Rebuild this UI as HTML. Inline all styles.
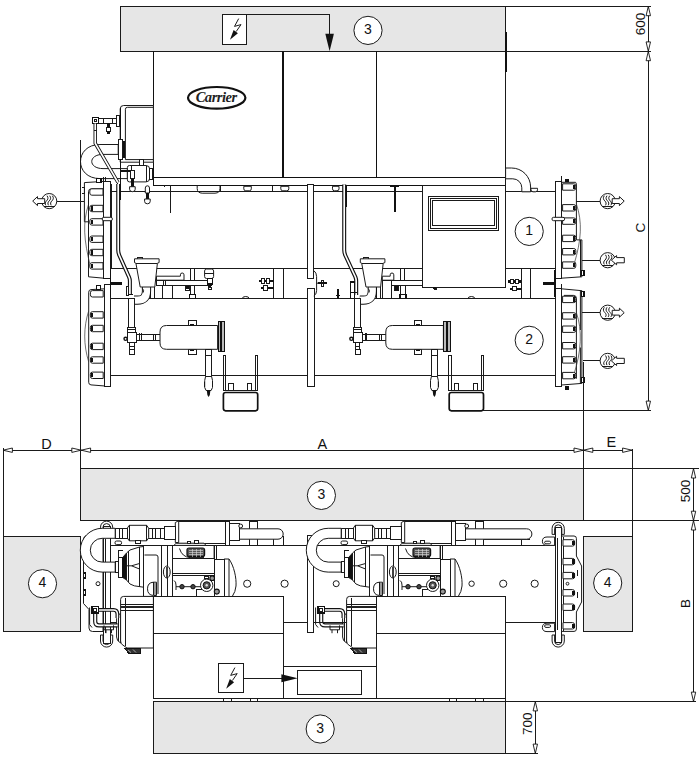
<!DOCTYPE html>
<html><head><meta charset="utf-8">
<style>
html,body{margin:0;padding:0;background:#fff;}
body{width:699px;height:763px;overflow:hidden;font-family:"Liberation Sans",sans-serif;}
svg{display:block;position:absolute;left:0;top:0;}
.t{font-family:"Liberation Sans",sans-serif;font-size:13.5px;fill:#111;}
.l{stroke:#1a1a1a;stroke-width:1;fill:none;}
.h{stroke:#333;stroke-width:.7;fill:none;}
.m{stroke:#111;stroke-width:1.4;fill:none;}
.b{stroke:#111;stroke-width:2;fill:none;}
.g{fill:#e6e6e6;stroke:#1a1a1a;stroke-width:1;}
.w{fill:#fff;stroke:#1a1a1a;stroke-width:1;}
.wh{fill:#fff;stroke:#333;stroke-width:.7;}
.wm{fill:#fff;stroke:#111;stroke-width:1.4;}
.k{fill:#111;stroke:none;}
.ar{fill:#fff;stroke:#111;stroke-width:.9;}
</style></head><body>
<svg width="699" height="763" viewBox="0 0 699 763">
<!-- gray zones -->
<rect shape-rendering="crispEdges" class="g" x="120.5" y="6.5" width="385" height="45"/>
<rect shape-rendering="crispEdges" class="g" x="80.6" y="468.5" width="502.9" height="52"/>
<rect shape-rendering="crispEdges" class="g" x="153.5" y="701.7" width="352" height="51.8"/>
<rect shape-rendering="crispEdges" class="g" x="3.5" y="536.5" width="77" height="95"/>
<rect shape-rendering="crispEdges" class="g" x="583.5" y="536.5" width="48.5" height="95"/>
<circle class="w" stroke-width="1.3" cx="368.0" cy="30.4" r="14.1"/><text class="t" style="font-size:14px" x="368.0" y="33.9" text-anchor="middle">3</text>
<circle class="w" stroke-width="1.3" cx="321.4" cy="495.4" r="14.1"/><text class="t" style="font-size:14px" x="321.4" y="498.9" text-anchor="middle">3</text>
<circle class="w" stroke-width="1.3" cx="320.2" cy="729.0" r="14.1"/><text class="t" style="font-size:14px" x="320.2" y="732.5" text-anchor="middle">3</text>
<circle class="w" stroke-width="1.3" cx="42.5" cy="583.7" r="14.1"/><text class="t" style="font-size:14px" x="42.5" y="587.2" text-anchor="middle">4</text>
<circle class="w" stroke-width="1.3" cx="607.7" cy="583.0" r="14.1"/><text class="t" style="font-size:14px" x="607.7" y="586.5" text-anchor="middle">4</text>
<!-- front elevation -->
<rect shape-rendering="crispEdges" class="w" x="110.5" y="191.8" width="445" height="76.3"/>
<rect shape-rendering="crispEdges" class="w" x="110.5" y="298.7" width="445" height="76.8"/>
<path shape-rendering="crispEdges" class="l" d="M273.8 268V298.7M283.4 268V298.7M521.8 268V298.7M530.5 268V298.7"/>
<rect shape-rendering="crispEdges" class="w" x="153.4" y="51.3" width="352.2" height="126.2"/>
<path shape-rendering="crispEdges" class="m" d="M153.4 51.3V185.2M153.4 177.5H505.6M283 51.3V177.5M376.2 51.3V177.5M307.5 185.2H422.5"/>
<path shape-rendering="crispEdges" class="m" d="M153.4 185.2H307.5"/>
<path shape-rendering="crispEdges" class="l" d="M505.6 6.3V185"/>
<path shape-rendering="crispEdges" class="b" d="M505.6 31.5V72"/>
<path class="w" d="M243.8 186.3h7.5v2.5q0 2 -2 2h-3.5q-2 0 -2 -2z"/>
<path class="w" d="M280.8 186.3h8.0v2.5q0 2 -2 2h-4.0q-2 0 -2 -2z"/>
<path class="w" d="M332.5 186.3h6.5v2.5q0 2 -2 2h-2.5q-2 0 -2 -2z"/>
<path class="l" d="M197.2 185.5V188.4q0 4.6 5 4.8h12.8q5 -.2 5 -4.8V185.5"/><path shape-rendering="crispEdges" class="l" d="M220 185.5V191.5M272.7 185.5V191.5"/>
<ellipse cx="216.7" cy="97.8" rx="28.7" ry="10.8" fill="#fff" stroke="#111" stroke-width="2.2"/>
<text x="216.2" y="102.2" text-anchor="middle" style="font-family:'Liberation Serif',serif;font-style:italic;font-weight:bold;font-size:14.6px;letter-spacing:-0.5px" fill="#222">Carrier</text>
<rect shape-rendering="crispEdges" class="w" x="222.5" y="14.3" width="24" height="30"/>
<path shape-rendering="crispEdges" class="l" d="M246.5 14.3H329.6V36"/>
<polygon class="k" points="329.6,51.3 325.3,33.8 333.9,33.8"/>
<path d="M238.7 18.6L234.5 26.4 241 24.6 236.2 31.5" class="l" stroke-width="1"/><polygon class="k" points="230,39.8 233.6,30 237.9,33.2"/>
<rect shape-rendering="crispEdges" class="w" x="307.5" y="184.5" width="6" height="94.2"/>
<rect shape-rendering="crispEdges" class="w" x="307.5" y="288.6" width="6.6" height="97.7"/>
<path class="l" d="M313.8 270.6 q2.8 2 2.8 6v14 q0 4 -2.8 5.2M316.7 283.2H327"/>
<rect shape-rendering="crispEdges" class="w" x="321" y="280" width="2.6" height="6.6"/><rect shape-rendering="crispEdges" class="k" x="318" y="282.2" width="9.4" height="2"/>
<rect shape-rendering="crispEdges" class="k" x="336.7" y="289" width="2.4" height="9.7"/><rect shape-rendering="crispEdges" class="k" x="335.7" y="294.5" width="4.4" height="1.6"/>
<path class="w" d="M505.6 168 h6 a19 19 0 0 1 19 19 v4.8 h-8.8 v-4 a9 9 0 0 0 -9 -9 h-7.2z"/>
<path class="w" d="M531 188.3h6.5v1.5q0 2 -2 2h-2.5q-2 0 -2 -2z"/>
<rect shape-rendering="crispEdges" class="k" x="507.5" y="280.3" width="13" height="2.4"/><rect shape-rendering="crispEdges" class="w" x="510.3" y="279.3" width="3.4" height="4.4"/><rect shape-rendering="crispEdges" class="w" x="515.5" y="279.3" width="3.4" height="4.4"/>
<rect shape-rendering="crispEdges" class="k" x="510" y="287.5" width="10.5" height="2.4"/><rect shape-rendering="crispEdges" class="w" x="512.6" y="286.5" width="3.4" height="4.4"/>
<path class="l" d="M468 298.7q0 -2.2 3.4 -2.2t3.4 2.2"/>
<rect shape-rendering="crispEdges" class="k" x="258.5" y="279.6" width="15" height="2.4"/><rect shape-rendering="crispEdges" class="w" x="261.2" y="278.6" width="3.4" height="4.4"/><rect shape-rendering="crispEdges" class="w" x="266.5" y="278.6" width="3.4" height="4.4"/>
<rect shape-rendering="crispEdges" class="k" x="261" y="286.9" width="12.5" height="2.4"/><rect shape-rendering="crispEdges" class="w" x="263.6" y="285.9" width="3.4" height="4.4"/>
<path class="l" d="M242.3 298.7q0 -2.2 3.4 -2.2t3.4 2.2"/>
<path class="w" d="M103.8 181.4L84.4 182.6V221.8h4.1V276.8L103.8 278.2z"/>
<path class="h" d="M88.5 204.6 C82.6 222 83.6 240 90.6 267"/>
<path class="l" d="M103.8 188.8H91.4q-2.9 0 -2.9 2.9V222"/>
<path class="w" d="M103.0 188.8H91.8 q-2 0 -2 2.2v2q0 2.2 2 2.2H103.0z"/><path class="w" d="M103.0 205.3H91.8 q-2 0 -2 2.2v2q0 2.2 2 2.2H103.0z"/><rect shape-rendering="crispEdges" class="k" x="90.6" y="206.4" width="2.2" height="4.2"/><path class="w" d="M103.0 218.7H91.8 q-2 0 -2 2.2v2q0 2.2 2 2.2H103.0z"/><rect shape-rendering="crispEdges" class="k" x="90.6" y="219.8" width="2.2" height="4.2"/><path class="w" d="M103.0 236.0H91.8 q-2 0 -2 2.2v2q0 2.2 2 2.2H103.0z"/><rect shape-rendering="crispEdges" class="k" x="90.6" y="237.1" width="2.2" height="4.2"/><path class="w" d="M103.0 249.3H91.8 q-2 0 -2 2.2v2q0 2.2 2 2.2H103.0z"/><rect shape-rendering="crispEdges" class="k" x="90.6" y="250.4" width="2.2" height="4.2"/><path class="w" d="M103.0 262.7H91.8 q-2 0 -2 2.2v2q0 2.2 2 2.2H103.0z"/><rect shape-rendering="crispEdges" class="k" x="90.6" y="263.8" width="2.2" height="4.2"/>
<rect shape-rendering="crispEdges" class="w" x="103.8" y="181.2" width="6.2" height="97.2"/><path shape-rendering="crispEdges" class="l" d="M111.4 184V268"/>
<path class="w" d="M104.9 288.8L91 289.6q-2.3 .2 -2.3 2.6V382.3q0 2.4 2.3 2.6L104.9 386z"/>
<path class="h" d="M88.7 310.9 C83.4 327 83.4 345 88.7 361.9"/>
<path class="w" d="M103.2 290.6H92.4 q-2 0 -2 2.2v2q0 2.2 2 2.2H103.2z"/><path class="w" d="M103.2 311.7H92.4 q-2 0 -2 2.2v2q0 2.2 2 2.2H103.2z"/><rect shape-rendering="crispEdges" class="k" x="91.2" y="312.8" width="2.2" height="4.2"/><path class="w" d="M103.2 325.3H92.4 q-2 0 -2 2.2v2q0 2.2 2 2.2H103.2z"/><rect shape-rendering="crispEdges" class="k" x="91.2" y="326.4" width="2.2" height="4.2"/><path class="w" d="M103.2 343.2H92.4 q-2 0 -2 2.2v2q0 2.2 2 2.2H103.2z"/><rect shape-rendering="crispEdges" class="k" x="91.2" y="344.3" width="2.2" height="4.2"/><path class="w" d="M103.2 356.8H92.4 q-2 0 -2 2.2v2q0 2.2 2 2.2H103.2z"/><rect shape-rendering="crispEdges" class="k" x="91.2" y="357.9" width="2.2" height="4.2"/><path class="w" d="M103.2 372.1H92.4 q-2 0 -2 2.2v2q0 2.2 2 2.2H103.2z"/><rect shape-rendering="crispEdges" class="k" x="91.2" y="373.2" width="2.2" height="4.2"/>
<rect shape-rendering="crispEdges" class="w" x="104.9" y="284.5" width="5.6" height="102"/>
<rect shape-rendering="crispEdges" class="wm" x="96.4" y="285.6" width="3.8" height="3.6"/>
<path class="w" d="M561.5 182.3H575.6l.8 1.8V239.9h5.5V276.8L561.5 278.2z"/>
<path class="h" d="M576.4 204 C582.5 222 581.5 240 574 264.5"/>
<path shape-rendering="crispEdges" class="l" d="M580.8 239.9V276.6"/>
<path class="w" d="M562.6 183.8H573.8 q2 0 2 2.2v2q0 2.2 -2 2.2H562.6z"/><rect shape-rendering="crispEdges" class="k" x="572.8" y="184.9" width="2.2" height="4.2"/><path class="w" d="M562.6 204.6H573.8 q2 0 2 2.2v2q0 2.2 -2 2.2H562.6z"/><rect shape-rendering="crispEdges" class="k" x="572.8" y="205.7" width="2.2" height="4.2"/><path class="w" d="M562.6 217.9H573.8 q2 0 2 2.2v2q0 2.2 -2 2.2H562.6z"/><rect shape-rendering="crispEdges" class="k" x="572.8" y="219.0" width="2.2" height="4.2"/><path class="w" d="M562.6 235.2H573.8 q2 0 2 2.2v2q0 2.2 -2 2.2H562.6z"/><rect shape-rendering="crispEdges" class="k" x="572.8" y="236.3" width="2.2" height="4.2"/><path class="w" d="M562.6 248.5H573.8 q2 0 2 2.2v2q0 2.2 -2 2.2H562.6z"/><rect shape-rendering="crispEdges" class="k" x="572.8" y="249.6" width="2.2" height="4.2"/><path class="w" d="M562.6 261.9H573.8 q2 0 2 2.2v2q0 2.2 -2 2.2H562.6z"/><rect shape-rendering="crispEdges" class="k" x="572.8" y="263.0" width="2.2" height="4.2"/>
<rect shape-rendering="crispEdges" class="w" x="555.5" y="181.5" width="6" height="97"/>
<path class="w" d="M561.5 288.8L581.9 290.7V383.4L561.5 385z"/>
<path class="l" d="M580.4 291V330M580.4 347.5V383M564 295.4H573.5q2.9 0 2.9 2.9V378.7"/>
<path class="h" d="M576.4 312.7 C582.5 330 581.5 352 573.5 375.5"/>
<path class="w" d="M562.6 296.2H573.8 q2 0 2 2.2v2q0 2.2 -2 2.2H562.6z"/><rect shape-rendering="crispEdges" class="k" x="572.8" y="297.3" width="2.2" height="4.2"/><path class="w" d="M562.6 312.7H573.8 q2 0 2 2.2v2q0 2.2 -2 2.2H562.6z"/><rect shape-rendering="crispEdges" class="k" x="572.8" y="313.8" width="2.2" height="4.2"/><path class="w" d="M562.6 326.0H573.8 q2 0 2 2.2v2q0 2.2 -2 2.2H562.6z"/><rect shape-rendering="crispEdges" class="k" x="572.8" y="327.1" width="2.2" height="4.2"/><path class="w" d="M562.6 342.5H573.8 q2 0 2 2.2v2q0 2.2 -2 2.2H562.6z"/><rect shape-rendering="crispEdges" class="k" x="572.8" y="343.6" width="2.2" height="4.2"/><path class="w" d="M562.6 356.7H573.8 q2 0 2 2.2v2q0 2.2 -2 2.2H562.6z"/><rect shape-rendering="crispEdges" class="k" x="572.8" y="357.8" width="2.2" height="4.2"/><path class="w" d="M562.6 372.4H573.8 q2 0 2 2.2v2q0 2.2 -2 2.2H562.6z"/><rect shape-rendering="crispEdges" class="k" x="572.8" y="373.5" width="2.2" height="4.2"/>
<rect shape-rendering="crispEdges" class="w" x="555.5" y="288.5" width="6" height="97.5"/>
<rect class="w" x="102.2" y="217.3" width="10.2" height="3.4" rx="1.6"/><rect class="w" x="552" y="217.3" width="12.6" height="3.4" rx="1.6"/>
<rect shape-rendering="crispEdges" class="k" x="110.4" y="282.4" width="12" height="2.2"/><path shape-rendering="crispEdges" class="m" d="M110.6 270V296.5"/>
<rect shape-rendering="crispEdges" class="k" x="542.8" y="282.4" width="12" height="2.2"/><path shape-rendering="crispEdges" class="m" d="M555 270V296.5"/>
<path shape-rendering="crispEdges" class="l" d="M561.5 176.3v5M561.5 283.6v5"/><rect shape-rendering="crispEdges" class="k" x="565.4" y="178.6" width="4" height="3.2"/><rect shape-rendering="crispEdges" class="k" x="564.6" y="386" width="4" height="3.6"/>
<rect shape-rendering="crispEdges" class="wm" x="581.6" y="270.4" width="2.4" height="5"/><rect shape-rendering="crispEdges" class="wm" x="581.6" y="291.4" width="2.4" height="5"/><rect shape-rendering="crispEdges" class="wm" x="581.6" y="377.8" width="2.4" height="5"/>
<path shape-rendering="crispEdges" class="l" d="M56.8 201.1H84.4M576.4 201.1H600.4M581.9 260.2H600.4M581.9 312.7H600.4M583 360.9H600.4"/>
<circle class="w" cx="49.2" cy="201.1" r="7.6" stroke-width="1.1"/><path class="l" stroke-width=".9" d="M47.0 195.7C48.7 197.9 47.8 199.7 46.5 200.9S44.7 203.7 45.8 205.3"/><path class="l" stroke-width=".9" d="M49.7 195.7C51.4 197.9 50.5 199.7 49.2 200.9S47.4 203.7 48.5 205.3"/><path class="l" stroke-width=".9" d="M52.4 195.7C54.1 197.9 53.2 199.7 51.9 200.9S50.1 203.7 51.2 205.3"/><path shape-rendering="crispEdges" class="l" stroke-width=".9" d="M43.8 206.4h10.8"/><polygon class="w" stroke-width="1.1" points="44.7,198.7 37.5,198.7 37.5,196.6 32.7,201.1 37.5,205.6 37.5,203.5 44.7,203.5"/>
<circle class="w" cx="607.7" cy="201.1" r="7.6" stroke-width="1.1"/><path class="l" stroke-width=".9" d="M604.3 195.7C602.6 197.9 603.5 199.7 604.8 200.9S606.6 203.7 605.5 205.3"/><path class="l" stroke-width=".9" d="M607.0 195.7C605.3 197.9 606.2 199.7 607.5 200.9S609.3 203.7 608.2 205.3"/><path class="l" stroke-width=".9" d="M609.7 195.7C608.0 197.9 608.9 199.7 610.2 200.9S612.0 203.7 610.9 205.3"/><path shape-rendering="crispEdges" class="l" stroke-width=".9" d="M602.3 206.4h10.8"/><polygon class="w" stroke-width="1.1" points="612.2,198.7 619.4,198.7 619.4,196.6 624.2,201.1 619.4,205.6 619.4,203.5 612.2,203.5"/>
<circle class="w" cx="607.7" cy="260.2" r="7.6" stroke-width="1.1"/><path class="l" stroke-width=".9" d="M605.5 254.8C607.2 257.0 606.3 258.8 605.0 260.0S603.2 262.8 604.3 264.4"/><path class="l" stroke-width=".9" d="M608.2 254.8C609.9 257.0 609.0 258.8 607.7 260.0S605.9 262.8 607.0 264.4"/><path class="l" stroke-width=".9" d="M610.9 254.8C612.6 257.0 611.7 258.8 610.4 260.0S608.6 262.8 609.7 264.4"/><path shape-rendering="crispEdges" class="l" stroke-width=".9" d="M602.3 265.5h10.8"/><polygon class="w" stroke-width="1.1" points="611.4,260.2 616.6,255.6 616.6,257.6 624.3,257.6 624.3,262.8 616.6,262.8 616.6,264.8"/>
<circle class="w" cx="607.7" cy="312.7" r="7.6" stroke-width="1.1"/><path class="l" stroke-width=".9" d="M604.3 307.3C602.6 309.5 603.5 311.3 604.8 312.5S606.6 315.3 605.5 316.9"/><path class="l" stroke-width=".9" d="M607.0 307.3C605.3 309.5 606.2 311.3 607.5 312.5S609.3 315.3 608.2 316.9"/><path class="l" stroke-width=".9" d="M609.7 307.3C608.0 309.5 608.9 311.3 610.2 312.5S612.0 315.3 610.9 316.9"/><path shape-rendering="crispEdges" class="l" stroke-width=".9" d="M602.3 318.0h10.8"/><polygon class="w" stroke-width="1.1" points="612.2,310.3 619.4,310.3 619.4,308.2 624.2,312.7 619.4,317.2 619.4,315.1 612.2,315.1"/>
<circle class="w" cx="607.7" cy="360.9" r="7.6" stroke-width="1.1"/><path class="l" stroke-width=".9" d="M605.5 355.5C607.2 357.7 606.3 359.5 605.0 360.7S603.2 363.5 604.3 365.1"/><path class="l" stroke-width=".9" d="M608.2 355.5C609.9 357.7 609.0 359.5 607.7 360.7S605.9 363.5 607.0 365.1"/><path class="l" stroke-width=".9" d="M610.9 355.5C612.6 357.7 611.7 359.5 610.4 360.7S608.6 363.5 609.7 365.1"/><path shape-rendering="crispEdges" class="l" stroke-width=".9" d="M602.3 366.2h10.8"/><polygon class="w" stroke-width="1.1" points="611.4,360.9 616.6,356.3 616.6,358.3 624.3,358.3 624.3,363.5 616.6,363.5 616.6,365.5"/>
<circle class="w" stroke-width="1.3" cx="529.2" cy="231.4" r="14.1"/><text class="t" style="font-size:14px" x="529.2" y="234.9" text-anchor="middle">1</text>
<circle class="w" stroke-width="1.3" cx="529.2" cy="340.3" r="14.1"/><text class="t" style="font-size:14px" x="529.2" y="343.8" text-anchor="middle">2</text>
<path class="w" d="M118.2 144.5H100 C74 144.5 74 178.6 100 178.6 H127.4 V168.6 H103 C88 168.6 88 154.4 103 154.4 H118.2z"/>
<path class="w" d="M153.4 105.5H123.6q-3.4 0 -3.4 3.4V162.2H153.4z"/>
<path class="l" d="M153.4 107.3H127.4q-2 0 -2 2V159.6H153.4"/>
<path shape-rendering="crispEdges" class="m" d="M120.2 108V200"/>
<path shape-rendering="crispEdges" class="l" d="M117 182V250"/>
<rect shape-rendering="crispEdges" class="w" x="118.2" y="139.3" width="4" height="19.8"/><path shape-rendering="crispEdges" class="b" d="M124 141V157.5"/>
<rect shape-rendering="crispEdges" class="w" x="116.3" y="115.5" width="3.4" height="10.8"/>
<rect shape-rendering="crispEdges" class="w" x="98.6" y="118.3" width="17.7" height="5"/><path shape-rendering="crispEdges" class="l" d="M103.6 118.3v5M112 118.3v5"/>
<rect shape-rendering="crispEdges" class="wm" x="92.3" y="117.3" width="6.3" height="6.3"/><rect shape-rendering="crispEdges" class="l" x="94" y="119" width="2.8" height="2.8"/>
<rect shape-rendering="crispEdges" class="k" x="106.6" y="123.3" width="3.2" height="4.5"/><rect shape-rendering="crispEdges" class="w" x="106.2" y="127.8" width="4" height="3.4"/><rect shape-rendering="crispEdges" class="k" x="106.8" y="131.2" width="2.8" height="3"/>
<path d="M95.2 123.6V143.2L118 182.5" fill="none" stroke="#111" stroke-width="3.4"/><path d="M95.2 123.6V143.2L118 182.5" fill="none" stroke="#fff" stroke-width="1.6"/>
<path shape-rendering="crispEdges" class="l" d="M93.5 130.6h3.4"/>
<rect shape-rendering="crispEdges" class="w" x="139.2" y="159.6" width="4" height="6"/>
<path class="w" d="M127.4 167.5q0 -2 2 -2H146q3.7 0 3.7 3.7V178q0 3.9 -3.7 3.9H129.4q-2 0 -2 -2z"/>
<path shape-rendering="crispEdges" class="l" d="M131.5 165.5V182M146 165.5V182"/><rect shape-rendering="crispEdges" class="w" x="149.7" y="168.5" width="2.4" height="10.5"/>
<path shape-rendering="crispEdges" class="b" d="M121 171.2H131.5"/>
<rect shape-rendering="crispEdges" class="w" x="130.2" y="170.7" width="4.2" height="8"/><rect shape-rendering="crispEdges" class="k" x="131" y="178.7" width="2.8" height="8"/><path class="w" d="M129.6 186.7h5.6v2.6q0 2.4 -2.8 2.4t-2.8 -2.4z"/>
<path class="w" d="M145.3 188q0 -2.2 2.1 -2.2t2.1 2.2V193h-4.2z"/><rect shape-rendering="crispEdges" class="k" x="145.8" y="193" width="3.2" height="6"/><path class="w" d="M144.6 199h5.6v2.4q0 2.4 -2.8 2.4t-2.8 -2.4z"/>
<path shape-rendering="crispEdges" class="l" d="M170.3 184.5V212.5M164 184.5V187"/>
<rect shape-rendering="crispEdges" class="wm" x="96.4" y="178.4" width="4.4" height="3.8"/><path shape-rendering="crispEdges" class="l" d="M103.6 176.5v5.6M105.4 176.5v5.6M82 187.5h2.4v6h-2.4"/>
<g transform="translate(0.0,0)"><path d="M118.2 184V250 Q118.2 253 119.4 255.5 L129 277 Q129.9 279 129.9 281 V295" fill="none" stroke="#111" stroke-width="4.0" stroke-linejoin="round"/><path d="M118.2 184V250 Q118.2 253 119.4 255.5 L129 277 Q129.9 279 129.9 281 V295" fill="none" stroke="#fff" stroke-width="1.7" stroke-linejoin="round"/><path class="w" d="M156.5 276.2H180.4v-1.4q0 -1.8 1.8 -1.8t1.8 1.8V280.2H156.5z"/><rect shape-rendering="crispEdges" class="w" x="156.5" y="280.2" width="54.9" height="5.1"/><path shape-rendering="crispEdges" class="l" d="M163.6 280.2v5.1M165.4 280.2v5.1"/><rect shape-rendering="crispEdges" class="w" x="162.5" y="285.3" width="9.5" height="13.4"/><path shape-rendering="crispEdges" class="l" d="M190.8 268V280.2M194.3 268V280.2M150.5 287V298.7M154.8 287V298.7"/><rect shape-rendering="crispEdges" class="w" x="185.7" y="285.3" width="3.4" height="5.2"/><rect shape-rendering="crispEdges" class="k" x="186.3" y="286" width="2.2" height="3.4"/><rect shape-rendering="crispEdges" class="w" x="190.4" y="285.3" width="4.4" height="9.5"/><rect shape-rendering="crispEdges" class="wm" x="189.6" y="294.6" width="6" height="4"/><path class="w" d="M204.6 271q0 -2 2 -2h5q2 0 2 2v5.5q0 2 -2 2h-5q-2 0 -2 -2z"/><path shape-rendering="crispEdges" class="l" d="M204.6 273.8h9"/><path shape-rendering="crispEdges" class="wm" d="M207.5 278.5h5v5.5h-5z"/><rect shape-rendering="crispEdges" class="k" x="208" y="285.3" width="3.4" height="2.2"/><rect shape-rendering="crispEdges" class="w" x="208.6" y="287.5" width="2.4" height="2.4"/><path d="M146.5 286 V291 Q146.5 300.2 137.5 300.2 H134" fill="none" stroke="#111" stroke-width="9.2" stroke-linejoin="round"/><path d="M146.5 286 V291 Q146.5 300.2 137.5 300.2 H134" fill="none" stroke="#fff" stroke-width="7.2" stroke-linejoin="round"/><path class="l" d="M142.3 288.5q2 1.5 1 4"/><rect shape-rendering="crispEdges" class="w" x="137.6" y="257.4" width="5.2" height="1.6"/><path class="w" d="M134.5 258.8H159.1V262.6L157.4 263.2 154.8 287H140.2L135.9 263.2 134.5 262.6z"/><path shape-rendering="crispEdges" class="l" d="M135.9 263H157.4"/><rect shape-rendering="crispEdges" class="w" x="126.2" y="286.5" width="2.2" height="9"/><rect shape-rendering="crispEdges" class="k" x="128" y="293.6" width="4.6" height="1.6"/><rect shape-rendering="crispEdges" class="w" x="128.4" y="298.2" width="6.2" height="29.2"/><rect shape-rendering="crispEdges" class="w" x="127.6" y="327.3" width="7.8" height="5.2"/><path shape-rendering="crispEdges" class="l" d="M127.6 329.6h7.8"/><rect shape-rendering="crispEdges" class="w" x="127.8" y="332.5" width="8.6" height="9.8"/><rect shape-rendering="crispEdges" class="w" x="129.6" y="342.2" width="4.4" height="7.6"/><path shape-rendering="crispEdges" class="l" d="M129.6 346h4.4"/><rect shape-rendering="crispEdges" class="w" x="129.2" y="349.6" width="5.2" height="4.6"/><circle cx="125.6" cy="338.8" r="1.6" fill="#fff" stroke="#111" stroke-width="1.4"/><rect shape-rendering="crispEdges" class="w" x="136.4" y="334" width="23.8" height="6.5"/><path shape-rendering="crispEdges" class="l" d="M139.6 333.2v8.1M141 333.2v8.1M153.6 334v6.5M155.4 334v6.5"/><rect shape-rendering="crispEdges" class="w" x="188.4" y="320.3" width="7.7" height="5.4"/><rect shape-rendering="crispEdges" class="w" x="188.4" y="349.2" width="7.7" height="5.2"/><rect shape-rendering="crispEdges" class="k" x="190.2" y="323.6" width="4" height="1.4"/><rect shape-rendering="crispEdges" class="k" x="190.2" y="350" width="4" height="1.4"/><path class="w" d="M217.6 325.5H166.5q-6.5 0 -6.5 6.5V343q0 6.3 6.5 6.3H217.6z"/><rect shape-rendering="crispEdges" x="218" y="321.8" width="2.8" height="30" fill="#bbb" stroke="#111" stroke-width="1"/><rect shape-rendering="crispEdges" x="221.8" y="321.8" width="3" height="30" fill="#bbb" stroke="#111" stroke-width="1"/><rect shape-rendering="crispEdges" class="w" x="205.6" y="349.3" width="6" height="27.5"/><path shape-rendering="crispEdges" class="l" d="M205.6 355h6"/><path class="w" d="M205.6 376.5h6l.9 4v7l-1.4 3h-5l-1.4 -3v-7z"/><path shape-rendering="crispEdges" class="l" d="M204.4 381.5v5M212.8 381.5v5"/><path class="k" d="M206.8 390.5h3.6l-.6 4.6-1.2 2-1.2-2z"/><path shape-rendering="crispEdges" class="l" d="M223 355.2V390.6M225.4 355.2V390.6M223 355.2h2.4M255.6 355.2V390.6M257.8 355.2V390.6M255.6 355.2h2.2"/><rect shape-rendering="crispEdges" class="w" x="228.8" y="383.4" width="4.2" height="7.4"/><rect shape-rendering="crispEdges" class="w" x="247.2" y="383.4" width="4.4" height="7.4"/><path shape-rendering="crispEdges" class="l" d="M223 390.6H257.8"/><rect x="223.4" y="392.5" width="34.3" height="18.3" rx="2.2" fill="#fff" stroke="#111" stroke-width="1.7"/></g>
<g transform="translate(225.8,0)"><path d="M118.4 184.5V250 Q118.4 253 119.6 255.5 L129.6 277 Q130.4 279 130.4 281 V295" fill="none" stroke="#111" stroke-width="4.0" stroke-linejoin="round"/><path d="M118.4 184.5V250 Q118.4 253 119.6 255.5 L129.6 277 Q130.4 279 130.4 281 V295" fill="none" stroke="#fff" stroke-width="1.7" stroke-linejoin="round"/><path class="w" d="M156.5 276.2H164.4v-1.4q0 -1.8 1.8 -1.8t1.8 1.8V280.2H156.5z"/><rect shape-rendering="crispEdges" class="w" x="156.5" y="280.2" width="8.8" height="18.5"/><rect shape-rendering="crispEdges" class="w" x="165.3" y="280.2" width="46" height="5.1"/><path shape-rendering="crispEdges" class="l" d="M174.8 268V280.2M178.7 268V280.2M150.5 287V298.7M154.8 287V298.7"/><rect shape-rendering="crispEdges" class="w" x="168.8" y="285.3" width="3.8" height="5.6"/><rect shape-rendering="crispEdges" class="k" x="169.4" y="286" width="2.6" height="4"/><rect shape-rendering="crispEdges" class="w" x="175" y="285.3" width="4.4" height="9.5"/><rect shape-rendering="crispEdges" class="wm" x="174.2" y="294.6" width="6" height="4"/><path class="w" d="M204.6 271q0 -2 2 -2h5q2 0 2 2v5.5q0 2 -2 2h-5q-2 0 -2 -2z"/><path shape-rendering="crispEdges" class="l" d="M204.6 273.8h9"/><path shape-rendering="crispEdges" class="wm" d="M207.5 278.5h5v5.5h-5z"/><rect shape-rendering="crispEdges" class="k" x="208" y="285.3" width="3.4" height="2.2"/><rect shape-rendering="crispEdges" class="w" x="208.6" y="287.5" width="2.4" height="2.4"/><path d="M146.5 286 V291 Q146.5 300.2 137.5 300.2 H134" fill="none" stroke="#111" stroke-width="9.2" stroke-linejoin="round"/><path d="M146.5 286 V291 Q146.5 300.2 137.5 300.2 H134" fill="none" stroke="#fff" stroke-width="7.2" stroke-linejoin="round"/><path class="l" d="M142.3 288.5q2 1.5 1 4"/><rect shape-rendering="crispEdges" class="w" x="137.6" y="257.4" width="5.2" height="1.6"/><path class="w" d="M134.5 258.8H159.1V262.6L157.4 263.2 154.8 287H140.2L135.9 263.2 134.5 262.6z"/><path shape-rendering="crispEdges" class="l" d="M135.9 263H157.4"/><rect shape-rendering="crispEdges" class="wm" x="124.8" y="282" width="3.6" height="16.4"/><rect shape-rendering="crispEdges" class="k" x="124.8" y="291.5" width="6" height="1.8"/><rect shape-rendering="crispEdges" class="w" x="128.4" y="298.2" width="6.2" height="29.2"/><rect shape-rendering="crispEdges" class="w" x="127.6" y="327.3" width="7.8" height="5.2"/><path shape-rendering="crispEdges" class="l" d="M127.6 329.6h7.8"/><rect shape-rendering="crispEdges" class="w" x="127.8" y="332.5" width="8.6" height="9.8"/><rect shape-rendering="crispEdges" class="w" x="129.6" y="342.2" width="4.4" height="7.6"/><path shape-rendering="crispEdges" class="l" d="M129.6 346h4.4"/><rect shape-rendering="crispEdges" class="w" x="129.2" y="349.6" width="5.2" height="4.6"/><circle cx="125.6" cy="338.8" r="1.6" fill="#fff" stroke="#111" stroke-width="1.4"/><rect shape-rendering="crispEdges" class="w" x="136.4" y="334" width="23.8" height="6.5"/><path shape-rendering="crispEdges" class="l" d="M139.6 333.2v8.1M141 333.2v8.1M153.6 334v6.5M155.4 334v6.5"/><rect shape-rendering="crispEdges" class="w" x="188.4" y="320.3" width="7.7" height="5.4"/><rect shape-rendering="crispEdges" class="w" x="188.4" y="349.2" width="7.7" height="5.2"/><rect shape-rendering="crispEdges" class="k" x="190.2" y="323.6" width="4" height="1.4"/><rect shape-rendering="crispEdges" class="k" x="190.2" y="350" width="4" height="1.4"/><path class="w" d="M217.6 325.5H166.5q-6.5 0 -6.5 6.5V343q0 6.3 6.5 6.3H217.6z"/><rect shape-rendering="crispEdges" x="218" y="321.8" width="2.8" height="30" fill="#bbb" stroke="#111" stroke-width="1"/><rect shape-rendering="crispEdges" x="221.8" y="321.8" width="3" height="30" fill="#bbb" stroke="#111" stroke-width="1"/><rect shape-rendering="crispEdges" class="w" x="205.6" y="349.3" width="6" height="27.5"/><path shape-rendering="crispEdges" class="l" d="M205.6 355h6"/><path class="w" d="M205.6 376.5h6l.9 4v7l-1.4 3h-5l-1.4 -3v-7z"/><path shape-rendering="crispEdges" class="l" d="M204.4 381.5v5M212.8 381.5v5"/><path class="k" d="M206.8 390.5h3.6l-.6 4.6-1.2 2-1.2-2z"/><path shape-rendering="crispEdges" class="l" d="M223 355.2V390.6M225.4 355.2V390.6M223 355.2h2.4M255.6 355.2V390.6M257.8 355.2V390.6M255.6 355.2h2.2"/><rect shape-rendering="crispEdges" class="w" x="228.8" y="383.4" width="4.2" height="7.4"/><rect shape-rendering="crispEdges" class="w" x="247.2" y="383.4" width="4.4" height="7.4"/><path shape-rendering="crispEdges" class="l" d="M223 390.6H257.8"/><rect x="223.4" y="392.5" width="34.3" height="18.3" rx="2.2" fill="#fff" stroke="#111" stroke-width="1.7"/></g>
<rect shape-rendering="crispEdges" class="w" x="422.5" y="185.3" width="83" height="101.7"/>
<rect shape-rendering="crispEdges" class="w" x="428.3" y="196.8" width="70.4" height="33.7"/>
<rect shape-rendering="crispEdges" class="l" x="430.3" y="198.8" width="66.4" height="29.7"/>
<rect shape-rendering="crispEdges" class="l" x="432.5" y="200.9" width="62" height="24.7"/>
<rect shape-rendering="crispEdges" class="k" x="433" y="287" width="2.6" height="2.4"/>
<path shape-rendering="crispEdges" class="m" d="M395 185V212M346.4 185V207M390 186.5h9"/>
<!-- plan view -->
<rect shape-rendering="crispEdges" class="w" x="110" y="545.4" width="445" height="77.2"/>
<circle class="w" cx="247.2" cy="583.7" r="3.6"/>
<circle class="w" cx="284.6" cy="583.7" r="3.6"/>
<circle class="w" cx="336.2" cy="583.7" r="3.0"/>
<circle class="w" cx="471.6" cy="583.7" r="2.7"/>
<circle class="w" cx="503.2" cy="583.7" r="3.6"/>
<circle class="w" cx="534.7" cy="583.7" r="3.6"/>
<path class="w" d="M103 535.5H88q-4.5 0 -4.5 4.5V603.5L89 609.5V628q0 3.5 3.5 3.5H103z"/>
<path shape-rendering="crispEdges" class="m" d="M83.6 573h2v5h-2M83.6 590h2v5h-2"/>
<path class="w" stroke-width="1.3" d="M100.5 533.2v-6.0a6.1 6.1 0 0 1 12.2 0v6.0z"/><path class="l" stroke-width="1.2" d="M103.0 533.2v-6.0a3.6 3.6 0 0 1 7.2 0v6.0"/>
<path class="w" stroke-width="1.3" d="M100.5 635.0v6.0a6.1 6.1 0 0 0 12.2 0v-6.0z"/><path class="l" stroke-width="1.2" d="M103.0 635.0v6.0a3.6 3.6 0 0 0 7.2 0v-6.0"/>
<rect shape-rendering="crispEdges" class="w" x="103" y="526" width="7" height="117"/><path shape-rendering="crispEdges" class="l" d="M105.6 539V633"/>
<circle class="w" cx="98" cy="583.7" r="2"/>
<path class="w" d="M554.6 537H547q-4.6 0 -4.6 4.2t4.6 4.2H554.6z"/><path class="w" d="M554.6 623.2H547q-4.6 0 -4.6 4.2t4.6 4.2H554.6z"/>
<rect class="l" x="544.6" y="541.2" width="6" height="2.6" rx="1.3"/><rect class="l" x="544.6" y="624.8" width="6" height="2.6" rx="1.3"/>
<path class="w" stroke-width="1.3" d="M552.1 534.4v-6.0a6.1 6.1 0 0 1 12.2 0v6.0z"/><path class="l" stroke-width="1.2" d="M554.6 534.4v-6.0a3.6 3.6 0 0 1 7.2 0v6.0"/>
<path class="w" stroke-width="1.3" d="M552.1 635.0v6.0a6.1 6.1 0 0 0 12.2 0v-6.0z"/><path class="l" stroke-width="1.2" d="M554.6 635.0v6.0a3.6 3.6 0 0 0 7.2 0v-6.0"/>
<path class="w" d="M561.2 536H574q2.4 0 2.4 2.4V556L581.6 566V602L576.4 612V629q0 2.4 -2.4 2.4H561.2z"/>
<path shape-rendering="crispEdges" class="l" d="M563 537V631"/>
<path class="w" d="M563 539.7h9.4q2.2 0 2.2 2.2v2q0 2.2 -2.2 2.2H563z"/><rect shape-rendering="crispEdges" class="k" x="572.2" y="540.6" width="2.4" height="4.6"/>
<path class="w" d="M563 558.4h9.4q2.2 0 2.2 2.2v2q0 2.2 -2.2 2.2H563z"/><rect shape-rendering="crispEdges" class="k" x="572.2" y="559.3" width="2.4" height="4.6"/>
<path class="w" d="M563 572.4h9.4q2.2 0 2.2 2.2v2q0 2.2 -2.2 2.2H563z"/><rect shape-rendering="crispEdges" class="k" x="572.2" y="573.3" width="2.4" height="4.6"/>
<path class="w" d="M563 589.6h9.4q2.2 0 2.2 2.2v2q0 2.2 -2.2 2.2H563z"/><rect shape-rendering="crispEdges" class="k" x="572.2" y="590.5" width="2.4" height="4.6"/>
<path class="w" d="M563 604.0h9.4q2.2 0 2.2 2.2v2q0 2.2 -2.2 2.2H563z"/><rect shape-rendering="crispEdges" class="k" x="572.2" y="604.9" width="2.4" height="4.6"/>
<path class="w" d="M563 622.6h9.4q2.2 0 2.2 2.2v2q0 2.2 -2.2 2.2H563z"/><rect shape-rendering="crispEdges" class="k" x="572.2" y="623.5" width="2.4" height="4.6"/>
<circle class="w" cx="567.5" cy="583.7" r="1.4"/>
<rect shape-rendering="crispEdges" class="w" x="555.2" y="527" width="6" height="115"/><path shape-rendering="crispEdges" class="l" d="M557.6 538V630"/>
<path shape-rendering="crispEdges" class="l" d="M577.6 570v6M577.6 592v6"/>
<rect shape-rendering="crispEdges" class="w" x="307.4" y="535.4" width="6.2" height="96.6"/>
<g transform="translate(0.0,0)"><rect shape-rendering="crispEdges" class="w" x="249.6" y="521.4" width="7.6" height="24"/><path shape-rendering="crispEdges" class="l" d="M273.2 539V545.4M283.2 536V545.4"/><path class="w" d="M239.1 528.8H278.0a5.2 5.2 0 0 1 0 10.4H239.1z"/><rect shape-rendering="crispEdges" class="w" x="228" y="523" width="11" height="17"/><circle class="w" cx="240.7" cy="526" r="1.9"/><rect shape-rendering="crispEdges" class="w" x="177.4" y="521.4" width="50" height="21.6"/><rect shape-rendering="crispEdges" class="w" x="225.6" y="521.4" width="3.4" height="23.6"/><path class="w" d="M175.3 522.5l2.1 -1.1h1.3V542.5h-3.4z"/><rect shape-rendering="crispEdges" class="w" x="164.1" y="526.7" width="11.2" height="12.3"/><rect shape-rendering="crispEdges" class="w" x="148.7" y="528.4" width="15.4" height="9.8"/><path shape-rendering="crispEdges" class="l" d="M152.5 528.4v9.8M155.6 528.4v9.8M160.4 528.4v9.8"/><path class="w" d="M127.2 528.4l2 -3.1h17.5l2 3.1v9.3l-2 3.1h-17.5l-2 -3.1z"/><path shape-rendering="crispEdges" class="l" d="M129.4 525.3v15.5M146.5 525.3v15.5"/><rect shape-rendering="crispEdges" class="w" x="115.2" y="528.4" width="12" height="9.8"/><path shape-rendering="crispEdges" class="l" d="M119.5 528.4v9.8M122.5 528.4v9.8"/><rect shape-rendering="crispEdges" class="w" x="135" y="540.8" width="5.4" height="2.6"/><rect class="w" x="115" y="541" width="6.6" height="3.6" rx="1.6"/><path class="w" d="M115.2 528.3H102.2A21.9 21.9 0 0 0 102.2 572.1H115.2V562.1H102.2A11.9 11.9 0 0 1 102.2 538.3H115.2z"/><rect shape-rendering="crispEdges" class="w" x="115.5" y="561.5" width="3" height="11"/><path shape-rendering="crispEdges" class="l" d="M118.5 557.5V550H122.5"/><rect shape-rendering="crispEdges" class="w" x="118.5" y="557.5" width="4" height="20"/><path d="M122.6 557.5L126.5 553V580L122.6 577.5z" fill="#111" stroke="#111" stroke-width=".8"/><path class="w" stroke-width="1.2" d="M126.5 553L130 550L139.5 547L143.5 546.5V587.2L139.5 586.6Q134 586.4 130 584L126.5 580z"/><path shape-rendering="crispEdges" class="l" d="M128.5 551.4V582M139.5 547V586.6"/><path class="l" d="M126.5 565.8H131.5L139.5 563.5M131.5 565.8L139.5 569"/><rect shape-rendering="crispEdges" class="w" x="143.5" y="545.5" width="18" height="51"/><path class="l" d="M144.5 555H156q2 0 2 2V594"/><path class="w" stroke-width="1.2" d="M153.5 582.2q-6 .3 -6 6.6t6 6.7h3v-13.3z"/><rect shape-rendering="crispEdges" x="153.6" y="583.4" width="2.6" height="11.4" fill="#999"/><path shape-rendering="crispEdges" class="l" d="M153.5 582.4v13"/><rect shape-rendering="crispEdges" class="w" x="161.5" y="545.5" width="11" height="51"/><path shape-rendering="crispEdges" class="l" d="M167.3 545.5V596.5"/><ellipse class="w" stroke-width="1.2" cx="166.8" cy="572" rx="3.4" ry="6"/><rect shape-rendering="crispEdges" x="166" y="567" width="1.8" height="10" fill="#888" stroke="#111" stroke-width=".6"/><rect shape-rendering="crispEdges" class="w" x="172.7" y="545.6" width="41.4" height="50.4"/><path shape-rendering="crispEdges" class="l" d="M172.7 558H214.1M172.7 573H214.1M172.7 575H214.1"/><path shape-rendering="crispEdges" class="w" d="M214.1 559H224.1V596H214.1z"/><path class="l" d="M214.1 559V545.6M216.5 545.6V559M224.1 559H229V596M229 559C234 566 236.6 578 236 586Q235.4 592 232.5 596"/><path class="w" d="M174 545.4l2 -2.2H204l2 2.2z"/><rect shape-rendering="crispEdges" class="w" x="187" y="541" width="3.6" height="2.2"/><rect shape-rendering="crispEdges" class="w" x="194" y="540.4" width="4" height="2.8"/><path class="l" d="M179.5 548.5Q182 557 190 557.6H204"/><rect x="187" y="548" width="17.6" height="8.6" rx="2" fill="#555" stroke="#111" stroke-width="1.2"/><path shape-rendering="crispEdges" d="M189 550.5h14M189 552.5h14M189 554.5h14M192 548.5v8M196 548.5v8M200 548.5v8" stroke="#ddd" stroke-width=".6" fill="none"/><path class="l" d="M174 580.5q2 1 2 4.5v5M176 586.7h26"/><circle cx="182" cy="586.7" r="2.2" fill="#444" stroke="#111" stroke-width="1"/><circle cx="193" cy="586.7" r="2.2" fill="#444" stroke="#111" stroke-width="1"/><path shape-rendering="crispEdges" class="l" d="M196.8 596V589.5H202"/><circle class="w" cx="206.7" cy="585.3" r="6.2" stroke-width="1.3"/><circle cx="206.7" cy="585.3" r="3.6" fill="#555" stroke="#111" stroke-width="1"/><circle cx="206.7" cy="585.3" r="1.2" fill="#ddd"/><path shape-rendering="crispEdges" class="l" d="M204.5 578.5h4.4v-2.4h-4.4z"/><circle cx="212.2" cy="578.2" r="2.3" fill="#999" stroke="#111" stroke-width="1.1"/><circle cx="216.8" cy="591.6" r="2.5" fill="#999" stroke="#111" stroke-width="1.1"/><path class="w" d="M120.6 613.5q-4 1 -4 5V637q0 4 4 6z"/><path shape-rendering="crispEdges" class="l" d="M118.6 615V641"/><path class="w" d="M153.4 596.4H123.6q-3 0 -3 3V641q0 3 2.4 4.2l4 2.8H153.4z"/><path shape-rendering="crispEdges" class="l" d="M125 597.5V646M120.6 604H153.4"/><rect shape-rendering="crispEdges" x="121" y="605.6" width="32.4" height="2.6" fill="#222"/><path shape-rendering="crispEdges" class="l" d="M120.6 610H153.4"/><path shape-rendering="crispEdges" d="M124.6 648.3h15.4v5.2h-11z" fill="#333" stroke="#111" stroke-width="1"/><path d="M128 650l3 2.6M133 649.5l3 3" stroke="#ddd" stroke-width=".7"/><path d="M98 609.9H113.5Q117.4 609.9 117.4 614V618" fill="none" stroke="#111" stroke-width="3.8" stroke-linejoin="round"/><path d="M98 609.9H113.5Q117.4 609.9 117.4 614V618" fill="none" stroke="#fff" stroke-width="1.5" stroke-linejoin="round"/><path d="M95.2 612.5V621.5Q95.2 625.4 99 625.4H117.6" fill="none" stroke="#111" stroke-width="4.2" stroke-linejoin="round"/><path d="M95.2 612.5V621.5Q95.2 625.4 99 625.4H117.6" fill="none" stroke="#fff" stroke-width="1.9" stroke-linejoin="round"/><rect shape-rendering="crispEdges" class="wm" x="91.9" y="606.4" width="6.6" height="6.4"/><rect shape-rendering="crispEdges" class="l" x="93.8" y="608.2" width="2.8" height="2.8"/><path class="l" d="M89.6 607.5v17l2.4 3M104 625.4v4.4h9.5v-4.4M106 629.8v3.4M111.5 629.8v3.4"/></g>
<g transform="translate(226.0,0)"><rect shape-rendering="crispEdges" class="w" x="249.6" y="521.4" width="7.6" height="24"/><path shape-rendering="crispEdges" class="l" d="M257.1 539.6H304M295.8 539.6V545.4"/><path class="w" d="M239.1 528.8H300.7a5.2 5.2 0 0 1 0 10.4H239.1z"/><rect shape-rendering="crispEdges" class="w" x="228" y="523" width="11" height="17"/><circle class="w" cx="240.7" cy="526" r="1.9"/><rect shape-rendering="crispEdges" class="w" x="177.4" y="521.4" width="50" height="21.6"/><rect shape-rendering="crispEdges" class="w" x="225.6" y="521.4" width="3.4" height="23.6"/><path class="w" d="M175.3 522.5l2.1 -1.1h1.3V542.5h-3.4z"/><rect shape-rendering="crispEdges" class="w" x="164.1" y="526.7" width="11.2" height="12.3"/><rect shape-rendering="crispEdges" class="w" x="148.7" y="528.4" width="15.4" height="9.8"/><path shape-rendering="crispEdges" class="l" d="M152.5 528.4v9.8M155.6 528.4v9.8M160.4 528.4v9.8"/><path class="w" d="M127.2 528.4l2 -3.1h17.5l2 3.1v9.3l-2 3.1h-17.5l-2 -3.1z"/><path shape-rendering="crispEdges" class="l" d="M129.4 525.3v15.5M146.5 525.3v15.5"/><rect shape-rendering="crispEdges" class="w" x="115.2" y="528.4" width="12" height="9.8"/><path shape-rendering="crispEdges" class="l" d="M119.5 528.4v9.8M122.5 528.4v9.8"/><rect shape-rendering="crispEdges" class="w" x="135" y="540.8" width="5.4" height="2.6"/><rect class="w" x="115" y="541" width="6.6" height="3.6" rx="1.6"/><path class="w" d="M115.2 528.3H102.2A21.9 21.9 0 0 0 102.2 572.1H115.2V562.1H102.2A11.9 11.9 0 0 1 102.2 538.3H115.2z"/><rect shape-rendering="crispEdges" class="w" x="115.5" y="561.5" width="3" height="11"/><path shape-rendering="crispEdges" class="l" d="M118.5 557.5V550H122.5"/><rect shape-rendering="crispEdges" class="w" x="118.5" y="557.5" width="4" height="20"/><path d="M122.6 557.5L126.5 553V580L122.6 577.5z" fill="#111" stroke="#111" stroke-width=".8"/><path class="w" stroke-width="1.2" d="M126.5 553L130 550L139.5 547L143.5 546.5V587.2L139.5 586.6Q134 586.4 130 584L126.5 580z"/><path shape-rendering="crispEdges" class="l" d="M128.5 551.4V582M139.5 547V586.6"/><path class="l" d="M126.5 565.8H131.5L139.5 563.5M131.5 565.8L139.5 569"/><rect shape-rendering="crispEdges" class="w" x="143.5" y="545.5" width="18" height="51"/><path class="l" d="M144.5 555H156q2 0 2 2V594"/><path class="w" stroke-width="1.2" d="M153.5 582.2q-6 .3 -6 6.6t6 6.7h3v-13.3z"/><rect shape-rendering="crispEdges" x="153.6" y="583.4" width="2.6" height="11.4" fill="#999"/><path shape-rendering="crispEdges" class="l" d="M153.5 582.4v13"/><rect shape-rendering="crispEdges" class="w" x="161.5" y="545.5" width="11" height="51"/><path shape-rendering="crispEdges" class="l" d="M167.3 545.5V596.5"/><ellipse class="w" stroke-width="1.2" cx="166.8" cy="572" rx="3.4" ry="6"/><rect shape-rendering="crispEdges" x="166" y="567" width="1.8" height="10" fill="#888" stroke="#111" stroke-width=".6"/><rect shape-rendering="crispEdges" class="w" x="172.7" y="545.6" width="41.4" height="50.4"/><path shape-rendering="crispEdges" class="l" d="M172.7 558H214.1M172.7 573H214.1M172.7 575H214.1"/><path shape-rendering="crispEdges" class="w" d="M214.1 559H224.1V596H214.1z"/><path class="l" d="M214.1 559V545.6M216.5 545.6V559M224.1 559H229V596M229 559C234 566 236.6 578 236 586Q235.4 592 232.5 596"/><path class="w" d="M174 545.4l2 -2.2H204l2 2.2z"/><rect shape-rendering="crispEdges" class="w" x="187" y="541" width="3.6" height="2.2"/><rect shape-rendering="crispEdges" class="w" x="194" y="540.4" width="4" height="2.8"/><path class="l" d="M179.5 548.5Q182 557 190 557.6H204"/><rect x="187" y="548" width="17.6" height="8.6" rx="2" fill="#555" stroke="#111" stroke-width="1.2"/><path shape-rendering="crispEdges" d="M189 550.5h14M189 552.5h14M189 554.5h14M192 548.5v8M196 548.5v8M200 548.5v8" stroke="#ddd" stroke-width=".6" fill="none"/><path class="l" d="M174 580.5q2 1 2 4.5v5M176 586.7h26"/><circle cx="182" cy="586.7" r="2.2" fill="#444" stroke="#111" stroke-width="1"/><circle cx="193" cy="586.7" r="2.2" fill="#444" stroke="#111" stroke-width="1"/><path shape-rendering="crispEdges" class="l" d="M196.8 596V589.5H202"/><circle class="w" cx="206.7" cy="585.3" r="6.2" stroke-width="1.3"/><circle cx="206.7" cy="585.3" r="3.6" fill="#555" stroke="#111" stroke-width="1"/><circle cx="206.7" cy="585.3" r="1.2" fill="#ddd"/><path shape-rendering="crispEdges" class="l" d="M204.5 578.5h4.4v-2.4h-4.4z"/><circle cx="212.2" cy="578.2" r="2.3" fill="#999" stroke="#111" stroke-width="1.1"/><circle cx="216.8" cy="591.6" r="2.5" fill="#999" stroke="#111" stroke-width="1.1"/><path class="w" d="M120.6 613.5q-4 1 -4 5V637q0 4 4 6z"/><path shape-rendering="crispEdges" class="l" d="M118.6 615V641"/><path class="w" d="M153.4 596.4H123.6q-3 0 -3 3V641q0 3 2.4 4.2l4 2.8H153.4z"/><path shape-rendering="crispEdges" class="l" d="M125 597.5V646M120.6 604H153.4"/><rect shape-rendering="crispEdges" x="121" y="605.6" width="32.4" height="2.6" fill="#222"/><path shape-rendering="crispEdges" class="l" d="M120.6 610H153.4"/><path shape-rendering="crispEdges" d="M124.6 648.3h15.4v5.2h-11z" fill="#333" stroke="#111" stroke-width="1"/><path d="M128 650l3 2.6M133 649.5l3 3" stroke="#ddd" stroke-width=".7"/><path d="M98 609.9H113.5Q117.4 609.9 117.4 614V618" fill="none" stroke="#111" stroke-width="3.8" stroke-linejoin="round"/><path d="M98 609.9H113.5Q117.4 609.9 117.4 614V618" fill="none" stroke="#fff" stroke-width="1.5" stroke-linejoin="round"/><path d="M95.2 612.5V621.5Q95.2 625.4 99 625.4H117.6" fill="none" stroke="#111" stroke-width="4.2" stroke-linejoin="round"/><path d="M95.2 612.5V621.5Q95.2 625.4 99 625.4H117.6" fill="none" stroke="#fff" stroke-width="1.9" stroke-linejoin="round"/><rect shape-rendering="crispEdges" class="wm" x="91.9" y="606.4" width="6.6" height="6.4"/><rect shape-rendering="crispEdges" class="l" x="93.8" y="608.2" width="2.8" height="2.8"/><path class="l" d="M89.6 607.5v17l2.4 3M104 625.4v4.4h9.5v-4.4M106 629.8v3.4M111.5 629.8v3.4"/></g>
<path shape-rendering="crispEdges" class="w" d="M153.4 596.8H283.6V666.3H376.6V596.8H505.6V698.2H153.4z"/>
<path shape-rendering="crispEdges" class="l" d="M153.4 633.2H283.6M376.6 633.2H505.6M283.6 666.3V698.2M376.6 666.3V698.2M283.6 622.6H307.4M313.6 622.6H346M505.6 698.2V701"/>
<rect shape-rendering="crispEdges" class="w" x="297.7" y="670.4" width="64" height="24.1"/>
<path shape-rendering="crispEdges" class="l" d="M223.7 698.2v2.8M231 698.2v2.8M250 698.2v2.8M257.2 698.2v2.8M449.5 698.2v2.8M456.8 698.2v2.8M475.8 698.2v2.8M483 698.2v2.8"/>
<rect shape-rendering="crispEdges" class="w" x="218.5" y="663.3" width="24.5" height="29.4"/>
<path shape-rendering="crispEdges" class="l" d="M243 678.2H284"/><polygon class="k" points="297.7,678.2 281.4,674.2 281.4,682.2"/>
<polyline points="234.9,667.6 230.7,675.4 237.2,673.6 232.4,680.5" class="l" stroke-width="1"/><polygon class="k" points="226.2,688.8 229.8,679.0 234.1,682.2"/>
<!-- dims -->
<path shape-rendering="crispEdges" class="l" d="M505.6 6.3H651M505.6 51.3H651M648.3 6.3V410.5M483 410.5H651"/>
<polygon class="ar" points="648.3,6.3 646.1,15.7 650.5,15.7"/>
<polygon class="ar" points="648.3,51.3 646.1,41.9 650.5,41.9"/>
<polygon class="ar" points="648.3,51.3 646.1,60.7 650.5,60.7"/>
<polygon class="ar" points="648.3,410.5 646.1,401.1 650.5,401.1"/>
<text class="t" transform="translate(644.6,24.0) rotate(-90)" text-anchor="middle">600</text>
<text class="t" transform="translate(645.3,227.5) rotate(-90)" text-anchor="middle">C</text>
<path shape-rendering="crispEdges" class="l" d="M80.9 140V468.6M583.5 362V468.6M3 450.2H632M3.5 447.6V536M632 448.5V536"/>
<polygon class="ar" points="3.0,450.2 12.4,448.0 12.4,452.4"/>
<polygon class="ar" points="81.2,450.2 71.8,448.0 71.8,452.4"/>
<polygon class="ar" points="81.2,450.2 90.6,448.0 90.6,452.4"/>
<polygon class="ar" points="583.4,450.2 574.0,448.0 574.0,452.4"/>
<polygon class="ar" points="583.4,450.2 592.8,448.0 592.8,452.4"/>
<polygon class="ar" points="632.0,450.2 622.6,448.0 622.6,452.4"/>
<text class="t" style="font-size:14.5px" x="46.6" y="448.6" text-anchor="middle">D</text>
<text class="t" style="font-size:14.5px" x="322.4" y="448.6" text-anchor="middle">A</text>
<text class="t" style="font-size:14.5px" x="611.3" y="447.4" text-anchor="middle">E</text>
<path shape-rendering="crispEdges" class="l" d="M583.4 468.6H699M583.4 520.6H699M693.5 468.6V701.5M505.7 701.5H696"/>
<polygon class="ar" points="693.5,468.6 691.3,478.0 695.7,478.0"/>
<polygon class="ar" points="693.5,520.6 691.3,511.2 695.7,511.2"/>
<polygon class="ar" points="693.5,520.6 691.3,530.0 695.7,530.0"/>
<polygon class="ar" points="693.5,701.5 691.3,692.1 695.7,692.1"/>
<text class="t" transform="translate(690.0,491.0) rotate(-90)" text-anchor="middle">500</text>
<text class="t" transform="translate(690.0,603.4) rotate(-90)" text-anchor="middle">B</text>
<path shape-rendering="crispEdges" class="l" d="M535.3 701.5V753.5M505.7 753.5H538"/>
<polygon class="ar" points="535.3,701.5 533.1,710.9 537.5,710.9"/>
<polygon class="ar" points="535.3,753.5 533.1,744.1 537.5,744.1"/>
<text class="t" transform="translate(531.5,723.8) rotate(-90)" text-anchor="middle">700</text>
</svg>
</body></html>
